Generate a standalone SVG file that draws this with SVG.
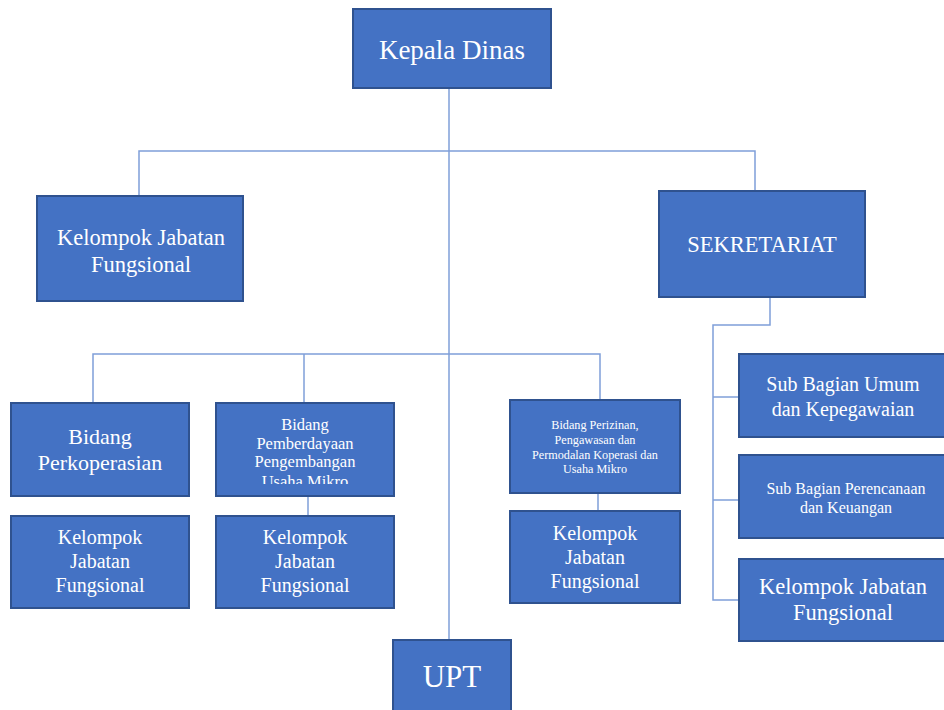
<svg xmlns="http://www.w3.org/2000/svg" width="944" height="710" viewBox="0 0 944 710">
<style>
.box{fill:#4472C4;stroke:#2F528F;stroke-width:2}
.t{font-family:"Liberation Serif","Times New Roman",serif;fill:#fff;text-anchor:middle}
.c{fill:none;stroke:#7F9FD9;stroke-width:1.5}
</style>
<defs><clipPath id="clipPem"><rect x="216" y="403" width="178" height="81"/></clipPath></defs>
<rect width="944" height="710" fill="#fff"/>
<g id="connectors">
<path class="c" d="M449 88V640"/>
<path class="c" d="M139 196V151H755V191"/>
<path class="c" d="M93 404V354H600V400"/>
<path class="c" d="M304 354V403"/>
<path class="c" d="M308 496V516"/>
<path class="c" d="M598 493V511"/>
<path class="c" d="M770 297V325H713V600H739"/>
<path class="c" d="M713 397H739"/>
<path class="c" d="M713 500H739"/>
</g>
<g id="kepala"><rect class="box" x="353" y="9" width="198" height="79"/><text class="t" x="452" y="59" font-size="27">Kepala Dinas</text></g>
<g id="kjf-top"><rect class="box" x="37" y="196" width="206" height="105"/><text class="t" x="141" y="245" font-size="22.5">Kelompok Jabatan</text><text class="t" x="141" y="272" font-size="22.5">Fungsional</text></g>
<g id="sekretariat"><rect class="box" x="659" y="191" width="206" height="106"/><text class="t" x="762" y="252" font-size="22.5">SEKRETARIAT</text></g>
<g id="sub-umum"><rect class="box" x="739" y="354" width="210" height="83"/><text class="t" x="843" y="391" font-size="20">Sub Bagian Umum</text><text class="t" x="843" y="416" font-size="20">dan Kepegawaian</text></g>
<g id="sub-perencanaan"><rect class="box" x="739" y="455" width="210" height="83"/><text class="t" x="846" y="494" font-size="16">Sub Bagian Perencanaan</text><text class="t" x="846" y="513" font-size="16">dan Keuangan</text></g>
<g id="kjf-sek"><rect class="box" x="739" y="559" width="210" height="82"/><text class="t" x="843" y="594" font-size="22.5">Kelompok Jabatan</text><text class="t" x="843" y="620" font-size="22.5">Fungsional</text></g>
<g id="perkoperasian"><rect class="box" x="11" y="403" width="178" height="93"/><text class="t" x="100" y="444" font-size="22">Bidang</text><text class="t" x="100" y="470" font-size="22">Perkoperasian</text></g>
<g id="kjf-perkop"><rect class="box" x="11" y="516" width="178" height="92"/><text class="t" x="100" y="544" font-size="20">Kelompok</text><text class="t" x="100" y="568" font-size="20">Jabatan</text><text class="t" x="100" y="592" font-size="20">Fungsional</text></g>
<g id="pemberdayaan"><rect class="box" x="216" y="403" width="178" height="93"/><g clip-path="url(#clipPem)"><text class="t" x="305" y="430" font-size="16.5">Bidang</text><text class="t" x="305" y="448.5" font-size="16.5">Pemberdayaan</text><text class="t" x="305" y="467" font-size="16.5">Pengembangan</text><text class="t" x="305" y="486.5" font-size="16.5">Usaha Mikro</text></g></g>
<g id="kjf-pemb"><rect class="box" x="216" y="516" width="178" height="92"/><text class="t" x="305" y="544" font-size="20">Kelompok</text><text class="t" x="305" y="568" font-size="20">Jabatan</text><text class="t" x="305" y="592" font-size="20">Fungsional</text></g>
<g id="perizinan"><rect class="box" x="510" y="400" width="170" height="93"/><text class="t" x="595" y="429" font-size="12.2">Bidang Perizinan,</text><text class="t" x="595" y="444" font-size="12.2">Pengawasan dan</text><text class="t" x="595" y="458.5" font-size="12.2">Permodalan Koperasi dan</text><text class="t" x="595" y="473" font-size="12.2">Usaha Mikro</text></g>
<g id="kjf-periz"><rect class="box" x="510" y="511" width="170" height="92"/><text class="t" x="595" y="540" font-size="20">Kelompok</text><text class="t" x="595" y="564" font-size="20">Jabatan</text><text class="t" x="595" y="588" font-size="20">Fungsional</text></g>
<g id="upt"><rect class="box" x="393" y="640" width="118" height="75"/><text class="t" x="452" y="687" font-size="31">UPT</text></g>
</svg>
